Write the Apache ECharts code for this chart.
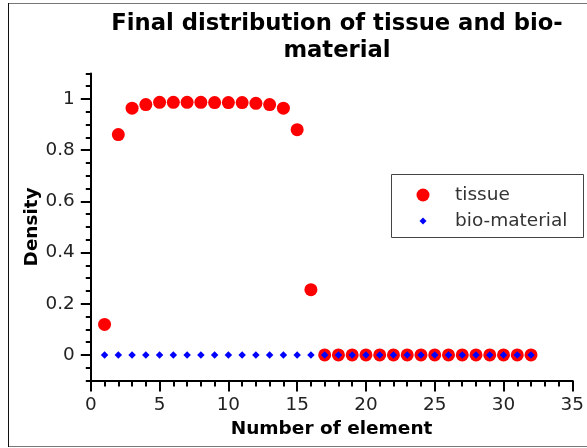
<!DOCTYPE html>
<html>
<head>
<meta charset="utf-8">
<script src="https://cdn.jsdelivr.net/npm/echarts@6/dist/echarts.min.js"></script>
<style>
  html, body { margin: 0; padding: 0; background: #fff; }
  #chart { width: 587px; height: 448px; }
</style>
</head>
<body>
<div id="chart"></div>
<script>
// ---- data ----
const elements = [1,2,3,4,5,6,7,8,9,10,11,12,13,14,15,16,17,18,19,20,21,22,23,24,25,26,27,28,29,30,31,32];
const tissue = [0.119, 0.861, 0.964, 0.978, 0.987, 0.987, 0.987, 0.987, 0.986, 0.986, 0.986, 0.983, 0.978, 0.964, 0.880, 0.255,
                0, 0, 0, 0, 0, 0, 0, 0, 0, 0, 0, 0, 0, 0, 0, 0];
const bioMaterial = [0, 0, 0, 0, 0, 0, 0, 0, 0, 0, 0, 0, 0, 0, 0, 0,
                     0, 0, 0, 0, 0, 0, 0, 0, 0, 0, 0, 0, 0, 0, 0, 0];
const yMajorTicks = [0, 0.2, 0.4, 0.6, 0.8, 1];
const seriesNames = ['tissue', 'bio-material'];
const titleText = 'Final distribution of tissue and bio-\nmaterial';
const xName = 'Number of element';
const yName = 'Density';

const FONT = 'DejaVu Sans';
const chart = echarts.init(document.getElementById('chart'), null, { renderer: 'canvas' });

const tissuePts = elements.map((x, i) => [x, tissue[i]]);
const bioPts = elements.map((x, i) => [x, bioMaterial[i]]);

const labelStyle = { fontFamily: FONT, fontSize: 18.4, color: '#222', margin: 16 };

const option = {
  backgroundColor: '#fff',
  animation: false,
  title: {
    text: titleText,
    left: 337,
    top: 11,
    padding: 0,
    textAlign: 'center',
    textStyle: { fontFamily: FONT, fontSize: 22.7, fontWeight: 'bold', color: '#000', lineHeight: 27 }
  },
  grid: { left: 90.8, right: 8, top: 73.4, bottom: 67.5, containLabel: false },
  xAxis: {
    type: 'value', min: 0, max: 35, interval: 5,
    name: xName, nameLocation: 'middle', nameGap: 38.6,
    nameTextStyle: { fontFamily: FONT, fontSize: 18.5, fontWeight: 'bold', color: '#000' },
    axisLine: { show: true, onZero: false, lineStyle: { color: '#000', width: 2 } },
    axisTick: { show: true, length: 11, lineStyle: { color: '#000', width: 2 } },
    minorTick: { show: true, splitNumber: 5, length: 6, lineStyle: { color: '#000', width: 2 } },
    axisLabel: labelStyle,
    splitLine: { show: false }
  },
  yAxis: [
    {
      type: 'value', min: -0.1, max: 1.1, interval: 0.05, position: 'left',
      name: yName, nameLocation: 'middle', nameGap: 50, nameMoveOverlap: false,
      nameTextStyle: { fontFamily: FONT, fontSize: 18.4, fontWeight: 'bold', color: '#000' },
      axisLine: { show: true, onZero: false, lineStyle: { color: '#000', width: 2 } },
      axisTick: { show: true, length: 10, customValues: yMajorTicks, lineStyle: { color: '#000', width: 2 } },
      axisLabel: Object.assign({}, labelStyle, { customValues: yMajorTicks, formatter: v => String(Math.round(v * 100) / 100) }),
      splitLine: { show: false }
    },
    {
      type: 'value', min: -0.1, max: 1.1, interval: 0.05, position: 'left',
      axisLine: { show: false, onZero: false },
      axisTick: { show: true, length: 5, lineStyle: { color: '#000', width: 2 } },
      axisLabel: { show: false },
      splitLine: { show: false }
    }
  ],
  legend: [
    {
      data: [{ name: seriesNames[0], icon: 'circle' }],
      left: 416.5, top: 185.5, padding: 0, z: 10, align: 'left', orient: 'horizontal',
      itemWidth: 13, itemHeight: 13,
      textStyle: { fontFamily: FONT, fontSize: 18.5, color: '#333', padding: [0, 0, 0, 20.5] },
      selectedMode: false
    },
    {
      data: [{ name: seriesNames[1], icon: 'diamond' }],
      left: 419.5, top: 211.5, padding: 0, z: 10, align: 'left', orient: 'horizontal',
      itemWidth: 7, itemHeight: 7,
      textStyle: { fontFamily: FONT, fontSize: 18.5, color: '#333', padding: [0, 0, 0, 23.5] },
      selectedMode: false
    }
  ],
  graphic: [
    { type: 'line', z: 0, silent: true, shape: { x1: 9, y1: 3.5, x2: 587, y2: 3.5 }, style: { stroke: '#777', lineWidth: 1 } },
    { type: 'line', z: 0, silent: true, shape: { x1: 9, y1: 446.5, x2: 587, y2: 446.5 }, style: { stroke: '#777', lineWidth: 1 } },
    { type: 'line', z: 0, silent: true, shape: { x1: 8.5, y1: 3, x2: 8.5, y2: 447 }, style: { stroke: '#111', lineWidth: 1 } },
    { type: 'rect', z: 5, silent: true, shape: { x: 391.5, y: 174.5, width: 192, height: 63 }, style: { fill: '#fff', stroke: '#444', lineWidth: 1 } }
  ],
  series: [
    {
      name: seriesNames[0], type: 'scatter', data: tissuePts,
      xAxisIndex: 0, yAxisIndex: 0,
      symbol: 'circle', symbolSize: 13,
      itemStyle: { color: '#ff0000', opacity: 1 },
      z: 2
    },
    {
      name: seriesNames[1], type: 'scatter', data: bioPts,
      xAxisIndex: 0, yAxisIndex: 0,
      symbol: 'diamond', symbolSize: [7.5, 7.5],
      itemStyle: { color: '#0000ff', opacity: 1 },
      z: 3
    }
  ]
};
chart.setOption(option);
</script>
</body>
</html>
